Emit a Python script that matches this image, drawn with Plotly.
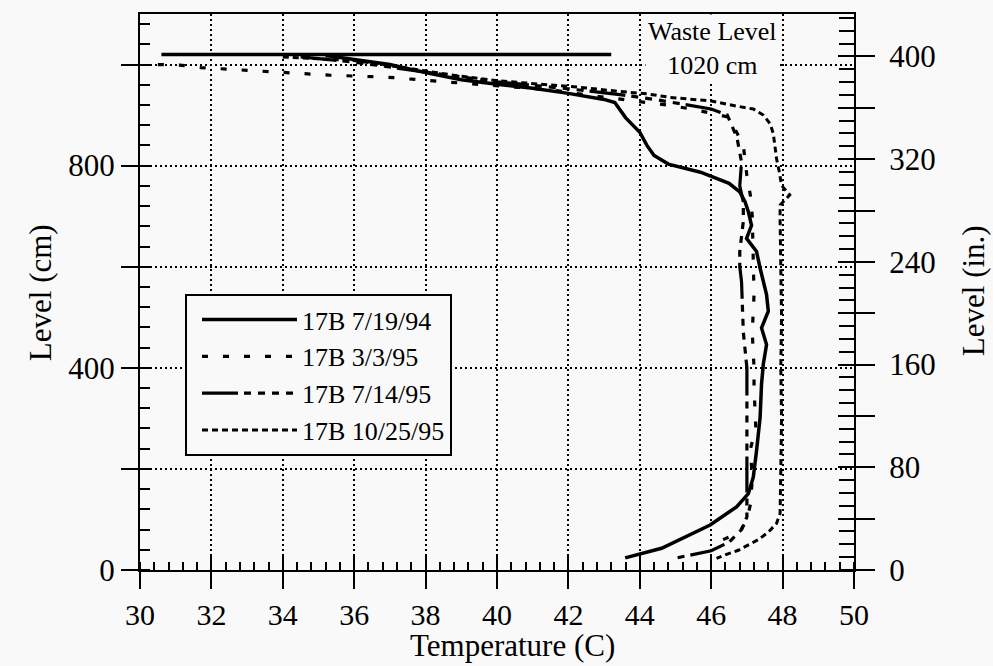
import plotly.graph_objects as go

# ---- data ----
t_071994 = [35.2, 36.0, 37.0, 38.0, 39.0, 40.0, 41.0, 42.0, 43.0, 43.3, 43.6, 44.0, 44.2, 44.4,
            44.8, 45.7, 46.5, 46.8, 46.95, 47.04, 47.13, 46.99, 47.27, 47.37, 47.55, 47.6,
            47.41, 47.55, 47.46, 47.41, 47.37, 47.27, 47.18, 47.04, 46.71, 45.97, 44.61, 43.59]
l_071994 = [1018, 1010, 1000, 984, 970, 961, 953, 943, 931, 925, 895, 866, 840, 820,
            803, 787, 765, 748, 728, 709, 682, 656, 630, 597, 545, 512,
            479, 446, 407, 368, 302, 236, 184, 151, 125, 89, 43, 24]

t_030395 = [30.5, 31.1, 31.7, 32.9, 34.15, 35.3, 36.5, 37.1, 38.5, 40.0, 41.5, 42.5, 43.6,
            44.3, 44.85, 45.45, 46.06, 46.43, 46.62, 46.9, 47.0, 47.1, 47.15, 47.2, 47.2,
            47.15, 47.2, 47.2, 47.25, 47.1, 47.15, 47.1, 47.0, 46.8, 46.3]
l_030395 = [1000, 999, 994, 989, 983, 979, 976, 974, 966, 958, 950, 940, 930,
            925, 919, 912, 902, 897, 879, 840, 780, 740, 700, 590, 545,
            470, 400, 360, 280, 240, 180, 130, 100, 75, 59]

t_071495 = [34.5, 36.0, 38.0, 40.0, 42.0, 43.5, 44.5, 45.5, 46.0, 46.45, 46.65, 46.72, 46.85,
            46.8, 46.9, 46.9, 46.8, 46.8, 46.85, 46.9, 46.9, 47.0, 47.0, 47.0, 47.0, 47.0,
            47.0, 46.85, 46.5, 46.0, 45.5, 44.9]
l_071495 = [1015, 1005, 985, 966, 952, 940, 930, 918, 912, 900, 870, 856, 807,
            760, 728, 690, 630, 600, 570, 500, 470, 400, 335, 280, 200, 130,
            105, 80, 55, 38, 30, 22]

t_102595 = [34.0, 36.0, 37.65, 38.87, 40.0, 41.2, 42.32, 43.26, 44.2, 44.85, 46.0, 46.7, 47.18,
            47.46, 47.65, 47.74, 47.79, 47.83, 47.91, 47.97, 48.2, 47.93, 47.93, 47.95, 47.97,
            47.95, 47.97, 47.95, 47.95, 47.93, 47.83, 47.6, 47.32, 47.04, 46.76, 46.43, 46.15]
l_102595 = [1015, 1008, 991, 978, 968, 961, 955, 948, 942, 935, 928, 918, 912,
            900, 883, 863, 840, 814, 787, 761, 742, 722, 696, 600, 500,
            400, 300, 200, 130, 112, 92, 75, 60, 49, 39, 31, 23]

waste_t = [30.6, 43.2]
waste_l = [1020, 1020]
waste_text = "Waste Level<br>1020 cm"

series_names = ["17B 7/19/94", "17B 3/3/95", "17B 7/14/95", "17B 10/25/95"]

CM_PER_IN = 2.54
x_range = [30, 50]
y_range_cm = [0, 1100]
y_range_in = [y_range_cm[0] / CM_PER_IN, y_range_cm[1] / CM_PER_IN]
x_ticks = list(range(30, 51, 2))
y_ticks_cm = [0, 200, 400, 600, 800, 1000]
y_ticktext_cm = ["0", "", "400", "", "800", ""]
y_ticks_in = list(range(0, 401, 40))
y_ticktext_in = [str(v) if v % 80 == 0 else "" for v in y_ticks_in]

BG = "#f9f9f9"
FONT = "Liberation Serif, Times New Roman, serif"

fig = go.Figure()
# waste level line (drawn on the inch axis so that axis is rendered)
fig.add_trace(go.Scatter(x=waste_t, y=[v / CM_PER_IN for v in waste_l], yaxis="y2",
                         mode="lines", showlegend=False,
                         line=dict(color="black", width=3.5), hoverinfo="skip"))
# same line, transparent, on the overlay tick axes
fig.add_trace(go.Scatter(x=waste_t, y=[v / CM_PER_IN for v in waste_l], xaxis="x3", yaxis="y3",
                         mode="lines", showlegend=False, opacity=0,
                         line=dict(color="black", width=0.1), hoverinfo="skip"))
fig.add_trace(go.Scatter(x=t_071994, y=l_071994, mode="lines", name=series_names[0],
                         line=dict(color="black", width=3.5)))
fig.add_trace(go.Scatter(x=t_030395, y=l_030395, mode="lines", name=series_names[1],
                         line=dict(color="black", width=3.2, dash="6px,15px")))
fig.add_trace(go.Scatter(x=t_071495, y=l_071495, mode="lines", name=series_names[2],
                         line=dict(color="black", width=3.2,
                                   dash="36px,6px,7px,7px,7px,7px,7px,7px,7px,6px")))
fig.add_trace(go.Scatter(x=t_102595, y=l_102595, mode="lines", name=series_names[3],
                         line=dict(color="black", width=3.0, dash="6px,4px")))

PW, PH = 714.0, 558.3
W, H = 993, 666
L, T = 140, 12
R = W - L - PW
B = H - T - PH

fig.update_layout(
    width=W, height=H,
    margin=dict(l=L, r=R, t=T, b=B, pad=0),
    paper_bgcolor=BG, plot_bgcolor=BG,
    font=dict(family=FONT, color="black", size=30),
    showlegend=True,
    legend=dict(x=(185 - 140) / PW, y=(570 - 293) / PH, xanchor="left", yanchor="top",
                bgcolor=BG, bordercolor="black", borderwidth=2,
                font=dict(family=FONT, size=26, color="black"),
                itemwidth=95, tracegroupgap=0, indentation=10),
    xaxis=dict(range=x_range, tickvals=x_ticks, ticks="outside", ticklen=17, tickwidth=2,
               tickcolor="black", showline=True, linecolor="black", linewidth=2, mirror=True,
               showgrid=True, gridcolor="black", gridwidth=1.8, griddash="2px,3px",
               zeroline=False, tickfont=dict(size=30),
               minor=dict(dtick=0.4, tick0=30, ticks="inside", ticklen=8, tickwidth=1.5,
                          tickcolor="black", showgrid=False)),
    yaxis=dict(range=y_range_cm, tickvals=y_ticks_cm, ticktext=y_ticktext_cm,
               ticks="outside", ticklen=17, tickwidth=2, tickcolor="black",
               showline=True, linecolor="black", linewidth=2,
               showgrid=True, gridcolor="black", gridwidth=1.8, griddash="2px,3px",
               zeroline=False, tickfont=dict(size=31),
               minor=dict(dtick=40, tick0=0, ticks="inside", ticklen=10, tickwidth=1.5,
                          tickcolor="black", showgrid=False)),
    yaxis2=dict(range=y_range_in, overlaying="y", side="right",
                anchor="x", tickvals=y_ticks_in, ticktext=y_ticktext_in,
                ticks="outside", ticklen=19, tickwidth=2, tickcolor="black",
                showline=True, linecolor="black", linewidth=2, showgrid=False, zeroline=False,
                tickfont=dict(size=31), ticklabelstandoff=8,
                minor=dict(dtick=10, tick0=0, ticks="inside", ticklen=15, tickwidth=1.5,
                           tickcolor="black", showgrid=False)),
    xaxis3=dict(range=x_range, overlaying="x", anchor="y", side="bottom", tickvals=x_ticks,
                ticks="inside", ticklen=15, tickwidth=2, tickcolor="black",
                showticklabels=False, showline=False, showgrid=False, zeroline=False),
    yaxis3=dict(range=y_range_in, overlaying="y", side="right",
                anchor="x", tickvals=y_ticks_in, ticks="inside", ticklen=16, tickwidth=2,
                tickcolor="black", showticklabels=False, showline=False, showgrid=False,
                zeroline=False),
)


def px_x(p):
    return (p - 140) / PW


def px_y(p):
    return (570 - p) / PH


fig.add_annotation(text="Temperature (C)", xref="paper", yref="paper",
                   x=px_x(512), y=px_y(646), xanchor="center", yanchor="middle",
                   showarrow=False, font=dict(size=31))
fig.add_annotation(text="Level (cm)", xref="paper", yref="paper", textangle=-90,
                   x=px_x(40), y=px_y(292), xanchor="center", yanchor="middle",
                   showarrow=False, font=dict(size=31))
fig.add_annotation(text="Level (in.)", xref="paper", yref="paper", textangle=-90,
                   x=px_x(973), y=px_y(290), xanchor="center", yanchor="middle",
                   showarrow=False, font=dict(size=31))
fig.add_annotation(text=waste_text, x=46.05, y=1031, xref="x", yref="y",
                   xanchor="center", yanchor="middle",
                   showarrow=False, font=dict(size=26), bgcolor=BG, borderpad=2)

fig.write_html("out.html", config={"displayModeBar": False},
               post_script="document.body.style.margin='0';document.body.style.padding='0';")
